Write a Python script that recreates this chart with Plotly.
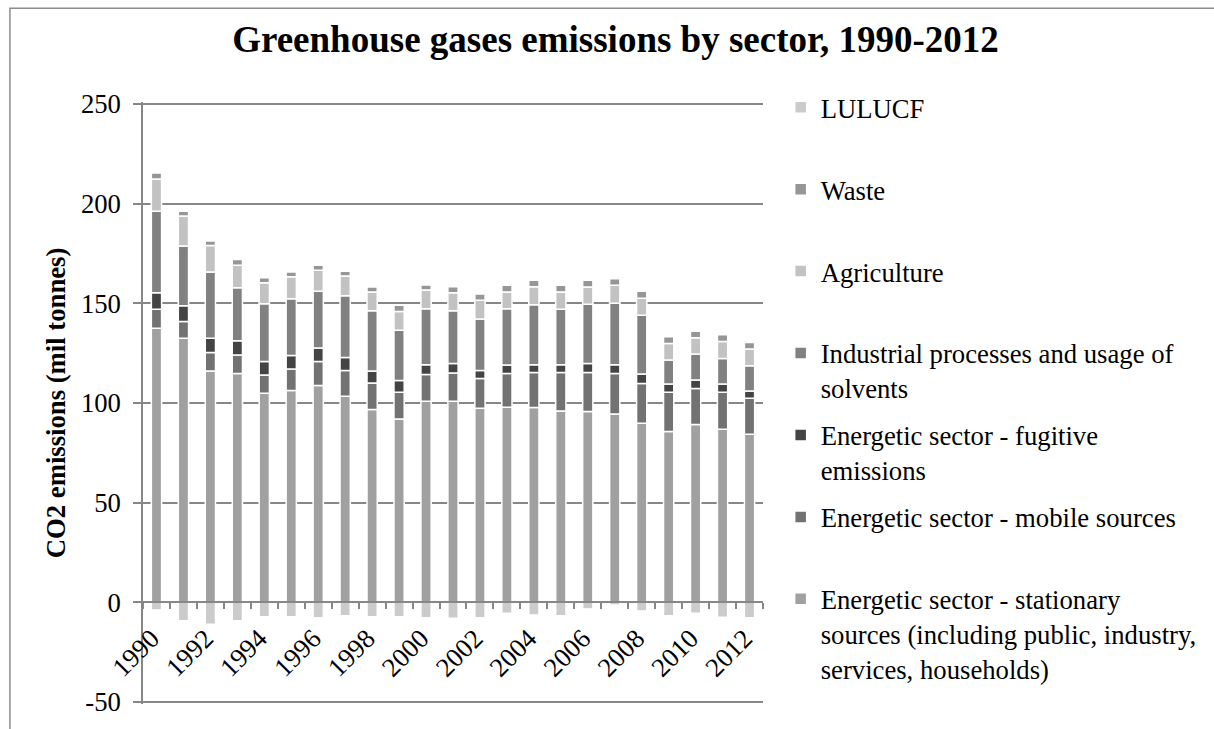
import plotly.graph_objects as go

years = list(range(1990, 2013))
tick_years = [1990, 1992, 1994, 1996, 1998, 2000, 2002, 2004, 2006, 2008, 2010, 2012]
y_ticks = [-50, 0, 50, 100, 150, 200, 250]
y_ticktext = ["-50", "0", "50", "100", "150", "200", "250"]

stationary = [137.5, 132.5, 116.0, 114.8, 104.8, 106.2, 108.7, 103.3, 96.7, 92.0, 100.8, 100.8,
              97.3, 97.8, 97.7, 96.0, 95.7, 94.5, 89.8, 85.7, 89.2, 86.8, 84.3]
mobile = [9.5, 8.3, 9.3, 9.2, 9.2, 10.8, 12.1, 13.0, 13.3, 13.3, 13.4, 14.2,
          14.9, 17.0, 17.6, 19.3, 19.6, 20.3, 20.0, 19.6, 18.1, 18.5, 18.0]
fugitive = [8.3, 7.9, 7.2, 7.2, 6.8, 6.8, 6.7, 6.5, 6.0, 5.9, 5.0, 4.8,
            4.1, 4.2, 3.9, 3.9, 4.5, 4.4, 4.7, 4.2, 4.2, 4.2, 3.7]
industrial = [40.9, 30.0, 33.2, 26.6, 29.0, 28.5, 28.5, 30.9, 30.2, 25.3, 28.1, 26.4,
              25.8, 28.3, 30.1, 27.8, 29.7, 30.8, 29.5, 12.0, 13.0, 12.8, 12.7]
agriculture = [16.1, 15.0, 13.3, 11.2, 10.5, 11.0, 10.5, 10.0, 9.5, 9.3, 9.4, 9.1,
               9.4, 8.4, 9.0, 8.7, 8.7, 9.0, 8.5, 8.3, 8.2, 8.5, 8.3]
waste = [3.0, 2.5, 2.2, 3.0, 2.5, 2.4, 2.5, 2.3, 2.5, 3.2, 2.5, 3.0,
         3.1, 3.3, 3.2, 3.3, 3.3, 3.3, 3.5, 3.4, 3.3, 3.4, 3.3]
lulucf = [-3.8, -9.2, -11.0, -9.3, -7.2, -7.3, -7.7, -6.7, -7.2, -7.3, -7.7, -8.0,
          -7.7, -5.5, -6.3, -6.7, -3.3, -1.3, -4.3, -6.7, -5.5, -7.5, -7.7]

PAD = "<br>\u00a0"
# (legend text, values, colour, legend rank)
series = [
    ("Energetic sector - stationary<br>sources (including public, industry,<br>services, households)", stationary, "#a0a0a0", 7),
    ("Energetic sector - mobile sources" + PAD, mobile, "#727272", 6),
    ("Energetic sector - fugitive<br>emissions", fugitive, "#444444", 5),
    ("Industrial processes and usage of<br>solvents", industrial, "#818181", 4),
    ("Agriculture" + PAD, agriculture, "#c2c2c2", 3),
    ("Waste" + PAD, waste, "#969696", 2),
    ("LULUCF" + PAD, lulucf, "#cbcbcb", 1),
]

fig = go.Figure()
for i, (name, vals, col, rank) in enumerate(series):
    fig.add_trace(go.Bar(
        x=years, y=vals, name=name, legendgroup="g%d" % i, legendrank=rank,
        marker=dict(color=col, line=dict(color="white", width=1.5)),
    ))

GRID = "#878787"
FONT = "Liberation Serif"
FS = 26.7

# pixel layout helpers (plot area from y=102 to y=706, 2 px per unit)
T, B = 60, 23
GH = 729 - T - B


def py(p):
    return (729 - B - p) / GH


fig.update_layout(
    width=1214, height=729,
    margin=dict(l=143, r=442, t=T, b=B),
    paper_bgcolor="white", plot_bgcolor="white",
    barmode="relative", bargap=0.62,
    font=dict(family=FONT, size=FS, color="black"),
    title=dict(text="<b>Greenhouse gases emissions by sector, 1990-2012</b>",
               font=dict(family=FONT, size=37, color="black"),
               x=0.507, xanchor="center", y=0.946, yanchor="middle"),
    showlegend=True,
    legend=dict(x=1.0285, xanchor="left", y=py(83.5), yanchor="top",
                traceorder="grouped", tracegroupgap=9.5, valign="top",
                font=dict(family=FONT, size=FS, color="black"),
                bgcolor="rgba(0,0,0,0)"),
    xaxis=dict(range=[1989.5, 2012.5], anchor="free", position=py(604),
               tickmode="array", tickvals=tick_years, ticktext=[str(y) for y in tick_years],
               tickangle=-45, ticks="", showgrid=False, zeroline=False,
               showline=True, linecolor=GRID, linewidth=2,
               ticklabelstandoff=9, ticklabelshift=-5,
               tickfont=dict(family=FONT, size=FS, color="black"),
               minor=dict(tickmode="array",
                          tickvals=[y - 0.5 for y in years] + [years[-1] + 0.5],
                          ticks="outside", ticklen=6, tickcolor=GRID, tickwidth=1.5,
                          showgrid=False)),
    yaxis=dict(range=[-51, 251], domain=[0, py(102)],
               tickmode="array", tickvals=y_ticks, ticktext=y_ticktext,
               ticks="outside", ticklen=8, tickcolor=GRID, tickwidth=1.5,
               showgrid=True, gridcolor=GRID, gridwidth=1.5, zeroline=False,
               showline=True, linecolor=GRID, linewidth=1.5,
               ticklabelstandoff=7,
               tickfont=dict(family=FONT, size=FS, color="black"),
               title=dict(text="<b>CO2 emissions (mil tonnes)</b>",
                          font=dict(family=FONT, size=FS, color="black"),
                          standoff=8)),
)

fig.add_shape(type="rect", xref="paper", yref="paper",
              x0=(8 - 143) / 629, x1=(1280 - 143) / 629,
              y0=py(760), y1=py(8),
              line=dict(color="#8c8c8c", width=1.5), fillcolor="rgba(0,0,0,0)", layer="below")

fig.write_html("out.html")
